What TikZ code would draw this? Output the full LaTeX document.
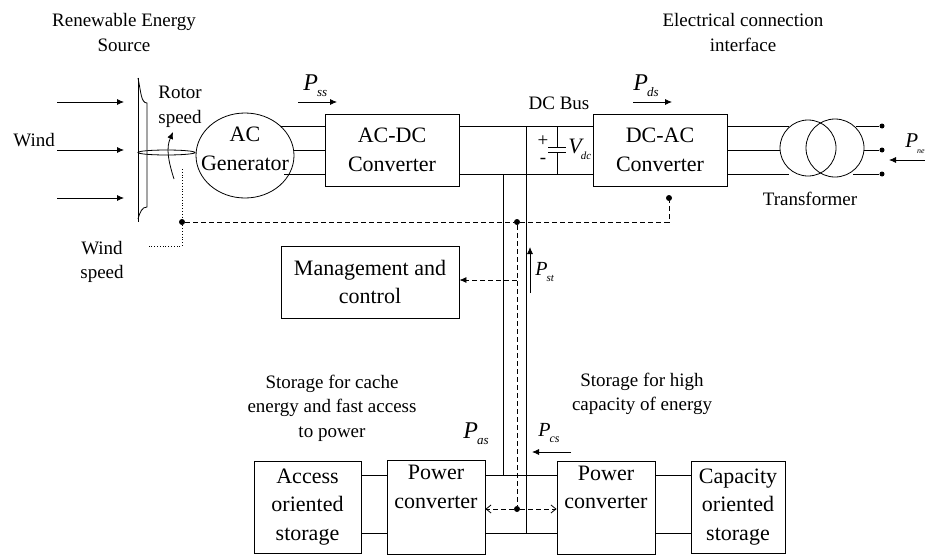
\documentclass[tikz,border=0pt]{standalone}
\usepackage{fontspec}
\setmainfont{Liberation Serif}
\usetikzlibrary{arrows.meta,shapes.geometric}
\tikzset{
  x=1pt, y=-1pt,
  blockbox/.style={shape=rectangle, draw, inner sep=0pt, font=\fontsize{22}{28.5}\selectfont, align=center},
  caption/.style={font=\fontsize{19}{24.5}\selectfont, align=center, inner sep=0pt},
  power/.style={inner sep=0pt, anchor=base west},
  dotnode/.style={shape=circle, fill, inner sep=0pt, minimum size=6pt},
  wire/.style={line width=0.8pt},
  flow/.style={line width=0.8pt, -{Latex[length=7pt,width=6pt]}},
  ctrl/.style={line width=0.8pt, dash pattern=on 5pt off 3pt},
}
\newcommand{\pw}[4]{{\fontsize{#1}{#1}\selectfont\itshape #2}\kern-1pt\raisebox{-6pt}{\fontsize{#3}{#3}\selectfont\itshape #4}}
\begin{document}
\begin{tikzpicture}[line width=0.8pt]
    \useasboundingbox (0,0) rectangle (925,554);

    % blocks
    \node[blockbox, minimum width=134pt, minimum height=72pt] (acdc) at (392,150){AC-DC\\Converter};
    \node[blockbox, minimum width=134pt, minimum height=72pt] (dcac) at (660,150){DC-AC\\Converter};
    \node[blockbox, minimum width=178pt, minimum height=72pt] (mgmt) at (370,282){Management and\\control};
    \node[blockbox, minimum width=107pt, minimum height=92pt] (access) at (307.5,507){Access\\oriented\\storage};
    \node[blockbox, minimum width=98pt, minimum height=94pt, anchor=north] (pcl) at (436,460){Power\\converter\\[13pt]};
    \node[blockbox, minimum width=98pt, minimum height=93pt, anchor=north] (pcr) at (606,461){Power\\converter\\[13pt]};
    \node[blockbox, minimum width=94pt, minimum height=92pt] (capac) at (738,507){Capacity\\oriented\\storage};

    % generator and rotor
    \node[draw, ellipse, minimum width=98pt, minimum height=85pt, inner sep=0pt] (gen) at (245,155.5){};
    \node[blockbox, draw=none] (gentext) at (245,149){AC\\Generator};
    \draw (138,78) -- (138,222);
    \draw (138,78) .. controls (141,92) and (141,103) .. (147,103) -- (147,207) .. controls (142,207) and (140,212) .. (138,219);
    \node[draw, ellipse, minimum width=57pt, minimum height=5pt, inner sep=0pt] (shaft) at (166.5,152.5){};

    % wind arrows
    \coordinate (w1a) at (57,102); \coordinate (w1b) at (124,102);
    \coordinate (w2a) at (57,150); \coordinate (w2b) at (124,150);
    \coordinate (w3a) at (57,198); \coordinate (w3b) at (124,198);
    \draw[flow] (w1a) to (w1b);
    \draw[flow] (w2a) to (w2b);
    \draw[flow] (w3a) to (w3b);
    \coordinate (ra) at (174,179); \coordinate (rb) at (173,132);
    \draw[flow] (ra) .. controls (168,160) and (166,148) .. (rb);

    % transformer
    \node[draw, circle, minimum size=56pt, inner sep=0pt] (tr1) at (808,148){};
    \node[draw, circle, minimum size=58pt, inner sep=0pt] (tr2) at (835,148){};
    \node[dotnode, minimum size=5pt] (t1) at (882,126){};
    \node[dotnode, minimum size=5pt] (t2) at (882,150){};
    \node[dotnode, minimum size=5pt] (t3) at (882,174){};
    \draw[wire] (727,126) -- (789,126);
    \draw[wire] (727,150) -- (780,150);
    \draw[wire] (727,174) -- (789,174);
    \draw[wire] (856,126) -- (t1);
    \draw[wire] (864,150) -- (t2);
    \draw[wire] (853,174) -- (t3);

    % ac side and dc bus
    \draw[wire] (281,126) -- (325,126);
    \draw[wire] (294,150) -- (325,150);
    \draw[wire] (284,174) -- (325,174);
    \draw[wire] (459,126) -- (593,126);
    \draw[wire] (459,174) -- (593,174);
    \draw[wire] (503,174) -- (503,475);
    \draw[wire] (526,126) -- (526,533);
    \draw[wire] (557,126) -- (557,147);
    \draw[wire] (557,152) -- (557,174);
    \draw[wire] (548,147) -- (566,147);
    \draw[wire] (548,152) -- (566,152);

    % storage side
    \draw[wire] (361,475) -- (387,475);
    \draw[wire] (361,533) -- (387,533);
    \draw[wire] (485,475) -- (557,475);
    \draw[wire] (485,533) -- (557,533);
    \draw[wire] (655,475) -- (691,475);
    \draw[wire] (655,533) -- (691,533);

    % control lines
    \node[dotnode] (c1) at (182,222){};
    \node[dotnode] (c2) at (517,222){};
    \node[dotnode] (c3) at (669,198){};
    \node[dotnode] (c4) at (517,509){};
    \coordinate (c5) at (669,222);
    \draw[dotted] (182,169) -- (c1);
    \draw[dotted] (c1) -- (182,246) -- (147,246);
    \draw[ctrl] (c1) -- (c2);
    \draw[ctrl] (c2) -- (c5) -- (c3);
    \draw[ctrl] (c2) -- (c4);
    \draw[ctrl, -{Latex[length=7pt,width=6pt]}] (517,280) -- (mgmt.east |- 517,280);
    \draw[ctrl, -{Straight Barb[length=5pt,width=8pt]}] (c4) -- (pcl.east |- c4);
    \draw[ctrl, -{Straight Barb[length=5pt,width=8pt]}] (c4) -- (pcr.west |- c4);

    % power flow arrows
    \draw[flow] (298,102) -- (337,102);
    \draw[flow] (633,102) -- (672,102);
    \draw[flow] (530,293) -- (530,247);
    \draw[flow] (571,452) -- (532,452);
    \draw[flow] (925,160) -- (889,160);

    % labels
    \node[caption] (l1) at (124,32.5){Renewable Energy\\Source};
    \node[caption] (l2) at (743,32.5){Electrical connection\\interface};
    \node[caption, anchor=west] (l3) at (13,140){Wind};
    \node[caption] (l4) at (180,107){Rotor\\speed};
    \node[caption] (l5) at (102,262){Wind\\speed};
    \node[caption] (l6) at (559,103){DC Bus};
    \node[caption] (l7) at (810,199){Transformer};
    \node[caption] (l8) at (332,408){Storage for cache\\energy and fast access\\to power};
    \node[caption] (l9) at (642,394){Storage for high\\capacity of energy};
    \node[caption] (l10) at (543,141){+};
    \node[caption] (l11) at (543,161){-};
    \node[power] (p1) at (303,90){\pw{24}{P}{13}{ss}};
    \node[power] (p2) at (633,90){\pw{24}{P}{13}{ds}};
    \node[power] (p3) at (568,153){\pw{22}{V}{11}{dc}};
    \node[power] (p4) at (535,275){\pw{20}{P}{11}{st}};
    \node[power] (p5) at (463,438){\pw{24}{P}{13}{as}};
    \node[power] (p6) at (538,436){\pw{20}{P}{12}{cs}};
    \node[power] (p7) at (905,147){\pw{21}{P}{8}{ne}};
\end{tikzpicture}
\end{document}
